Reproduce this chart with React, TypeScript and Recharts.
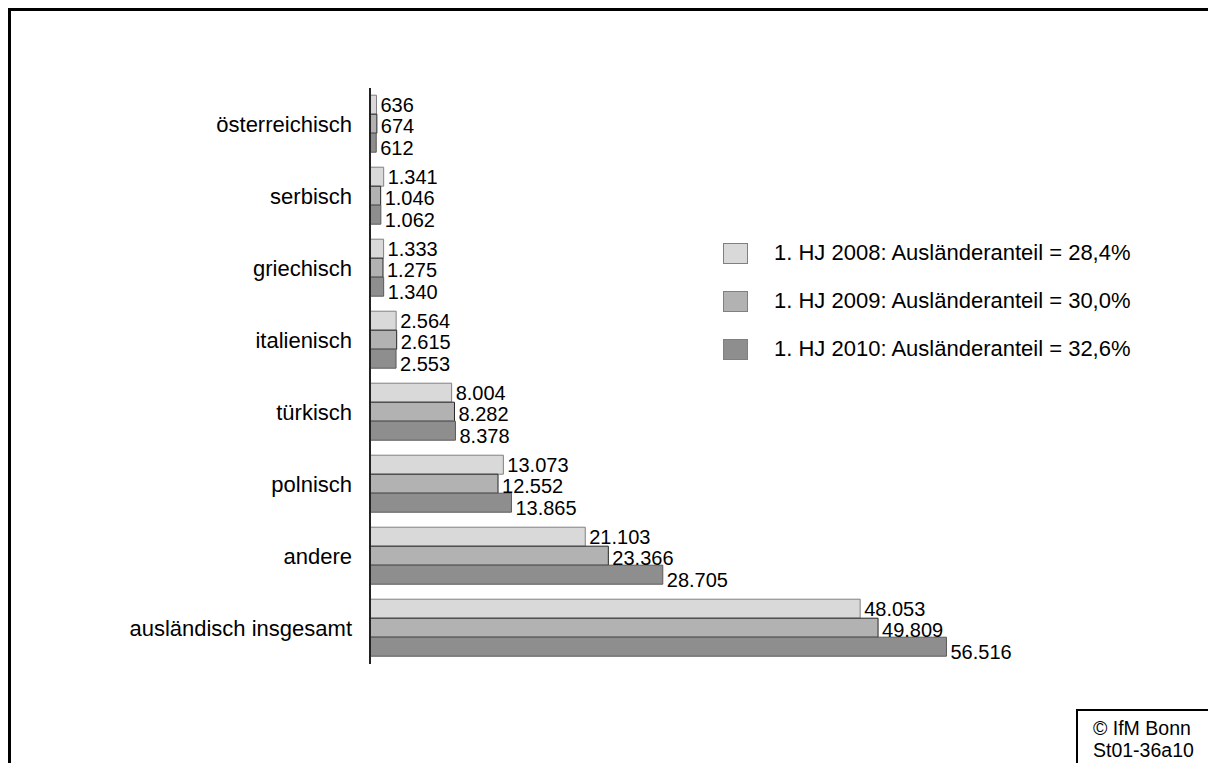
import React from 'react';
import { BarChart, Bar, XAxis, YAxis, LabelList, Legend } from 'recharts';

const categories = [
  'österreichisch',
  'serbisch',
  'griechisch',
  'italienisch',
  'türkisch',
  'polnisch',
  'andere',
  'ausländisch insgesamt',
];
const hj2008 = [636, 1341, 1333, 2564, 8004, 13073, 21103, 48053];
const hj2009 = [674, 1046, 1275, 2615, 8282, 12552, 23366, 49809];
const hj2010 = [612, 1062, 1340, 2553, 8378, 13865, 28705, 56516];
const seriesNames = [
  '1. HJ 2008: Ausländeranteil = 28,4%',
  '1. HJ 2009: Ausländeranteil = 30,0%',
  '1. HJ 2010: Ausländeranteil = 32,6%',
];
const fills = ['#d9d9d9', '#b2b2b2', '#8e8e8e'];
const strokes = ['#808080', '#262626', '#5a5a5a'];
const labelShift = [0, 2, 5];
const copyright = ['© IfM Bonn', 'St01-36a10'];

const data = categories.map((c, i) => ({
  name: c,
  a: hj2008[i],
  b: hj2009[i],
  c: hj2010[i],
}));

const FONT = '"Liberation Sans", Arial, sans-serif';

const fmt = (v: any) => {
  const s = String(Math.round(Number(v)));
  return s.replace(/\B(?=(\d{3})+(?!\d))/g, '.');
};

const LegendContent = () => (
  <div style={{ fontFamily: FONT, fontSize: 22, color: '#000', textAlign: 'left' }}>
    {seriesNames.map((n, i) => (
      <div
        key={n}
        style={{ display: 'flex', alignItems: 'center', height: 48, whiteSpace: 'nowrap' }}
      >
        <div
          style={{
            width: 23,
            height: 19,
            background: fills[i],
            border: '1px solid #808080',
            marginRight: 26,
            flex: 'none',
          }}
        />
        <span>{n}</span>
      </div>
    ))}
  </div>
);

export default function App() {
  const keys = ['a', 'b', 'c'];
  return (
    <div
      style={{
        position: 'fixed',
        left: 0,
        top: 0,
        width: 1208,
        height: 763,
        overflow: 'hidden',
        background: '#fff',
        fontFamily: FONT,
      }}
    >
      <div
        style={{
          position: 'absolute',
          left: 8,
          top: 8,
          width: 1300,
          height: 900,
          border: '3px solid #000',
          boxSizing: 'border-box',
        }}
      />
      <div style={{ position: 'absolute', left: 0, top: 0 }}>
        <BarChart
          width={1208}
          height={763}
          data={data}
          layout="vertical"
          margin={{ top: 88, right: 226, bottom: 99, left: 0 }}
          barCategoryGap="10%"
          barGap={0}
        >
          <XAxis type="number" domain={[0, 60000]} hide />
          <YAxis
            type="category"
            dataKey="name"
            width={370}
            axisLine={{ stroke: '#222', strokeWidth: 2 }}
            tickLine={false}
            tickSize={0}
            tickMargin={18}
            tick={{ fill: '#000', fontSize: 22, fontFamily: FONT }}
            interval={0}
          />
          <Legend
            layout="horizontal"
            verticalAlign="middle"
            align="center"
            content={<LegendContent />}
            wrapperStyle={{ left: 723, top: 229, width: 460, right: 'auto', bottom: 'auto' }}
          />
          {keys.map((k, i) => (
            <Bar
              key={k}
              dataKey={k}
              name={seriesNames[i]}
              fill={fills[i]}
              stroke={strokes[i]}
              strokeWidth={1}
              isAnimationActive={false}
            >
              <LabelList
                dataKey={k}
                position="right"
                offset={4}
                dy={labelShift[i]}
                formatter={fmt}
                style={{ fill: '#000', fontSize: 20, fontFamily: FONT }}
              />
            </Bar>
          ))}
        </BarChart>
      </div>
      <div
        style={{
          position: 'absolute',
          left: 1076,
          top: 709,
          width: 200,
          height: 100,
          border: '2px solid #000',
          boxSizing: 'border-box',
          padding: '6px 0 0 15px',
          fontSize: 19.5,
          lineHeight: '22px',
          color: '#000',
        }}
      >
        {copyright.map((t) => (
          <div key={t}>{t}</div>
        ))}
      </div>
    </div>
  );
}
